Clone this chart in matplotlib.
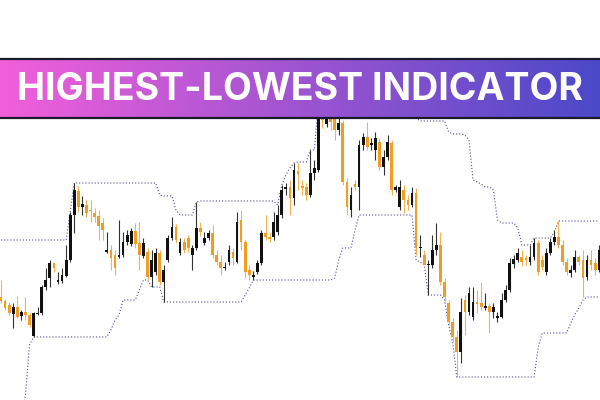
import numpy as np
import matplotlib
matplotlib.use("Agg")
import matplotlib.pyplot as plt
from matplotlib.colors import LinearSegmentedColormap

# candle data (148 bars)
opens = [103, 99, 95, 86, 93, 84, 88, 85, 64, 86,
         87, 113, 122, 137, 118, 119, 124, 140, 185, 209,
         193, 195, 190, 187, 184, 177, 148, 150, 145, 143,
         145, 158, 156, 169, 157, 144, 148, 123, 128, 147,
         118, 140, 162, 173, 147, 158, 162, 145, 152, 172,
         157, 162, 167, 145, 138, 132, 138, 148, 138, 180,
         158, 130, 123, 128, 137, 167, 163, 163, 168, 185,
         211, 213, 202, 229, 214, 213, 205, 227, 230, 288,
         276, 284, 282, 270, 277, 218, 190, 216, 213, 255,
         263, 255, 250, 258, 233, 243, 257, 210, 193, 210,
         200, 195, 207, 152, 145, 135, 135, 150, 155, 118,
         97, 78, 63, 48, 100, 88, 83, 98, 97, 92,
         94, 88, 82, 83, 100, 110, 136, 140, 143, 142,
         138, 143, 157, 140, 128, 147, 158, 163, 155, 138,
         127, 130, 143, 140, 123, 140, 137, 130]
closes = [99, 92, 87, 93, 83, 88, 85, 75, 87, 87,
          113, 120, 137, 132, 120, 125, 140, 185, 210, 193,
          196, 187, 189, 183, 174, 170, 150, 142, 132, 145,
          158, 165, 169, 156, 145, 157, 123, 140, 147, 118,
          130, 162, 173, 160, 158, 150, 152, 152, 172, 168,
          162, 167, 145, 138, 132, 133, 150, 142, 178, 158,
          128, 125, 125, 137, 167, 163, 161, 178, 185, 210,
          213, 202, 230, 226, 212, 205, 227, 232, 285, 280,
          284, 278, 270, 277, 218, 193, 205, 213, 255, 263,
          253, 257, 262, 233, 243, 258, 210, 213, 213, 200,
          195, 207, 152, 153, 135, 136, 150, 155, 118, 103,
          78, 63, 48, 88, 88, 107, 98, 96, 93, 94,
          88, 93, 84, 100, 110, 137, 141, 147, 138, 140,
          143, 157, 128, 133, 147, 158, 163, 155, 138, 128,
          130, 143, 138, 122, 140, 135, 130, 150]
highs = [120, 101, 98, 97, 104, 90, 103, 87, 88, 93,
         115, 132, 140, 138, 128, 132, 155, 188, 217, 214,
         204, 200, 200, 192, 190, 182, 168, 155, 150, 180,
         168, 170, 172, 177, 178, 162, 152, 150, 152, 150,
         135, 165, 183, 176, 162, 162, 165, 155, 198, 178,
         168, 170, 175, 150, 145, 138, 155, 152, 188, 190,
         160, 135, 129, 140, 170, 185, 168, 188, 195, 215,
         217, 220, 237, 237, 220, 217, 250, 240, 300, 300,
         295, 292, 288, 282, 280, 222, 213, 220, 260, 267,
         278, 262, 268, 262, 250, 265, 260, 215, 220, 215,
         205, 213, 212, 165, 150, 140, 165, 177, 168, 122,
         100, 82, 70, 102, 105, 113, 113, 110, 118, 107,
         97, 97, 88, 107, 115, 142, 145, 152, 150, 145,
         155, 162, 160, 145, 152, 162, 170, 179, 160, 142,
         135, 150, 145, 150, 145, 150, 142, 155]
lows = [97, 90, 85, 72, 82, 80, 80, 73, 63, 85,
        85, 110, 113, 128, 116, 117, 123, 138, 167, 188,
        185, 183, 178, 178, 160, 160, 147, 130, 125, 142,
        143, 155, 154, 152, 130, 142, 120, 113, 125, 115,
        98, 138, 160, 157, 145, 147, 148, 130, 150, 164,
        155, 160, 142, 135, 125, 130, 135, 135, 137, 150,
        122, 120, 120, 126, 135, 160, 158, 160, 165, 182,
        205, 185, 195, 210, 205, 200, 203, 220, 228, 272,
        273, 270, 260, 265, 215, 185, 183, 210, 190, 250,
        250, 250, 240, 230, 225, 240, 205, 208, 190, 187,
        190, 193, 145, 143, 136, 105, 132, 145, 115, 98,
        75, 58, 23, 37, 65, 85, 80, 87, 90, 90,
        67, 82, 78, 82, 98, 108, 132, 138, 134, 135,
        135, 140, 125, 130, 125, 145, 155, 152, 135, 125,
        123, 128, 135, 103, 120, 130, 125, 128]

# indicator lines
highest = [160, 160, 160, 160, 160, 160, 160, 160, 160, 160,
           160, 160, 160, 160, 160, 160, 160, 188, 217, 217,
           217, 217, 217, 217, 217, 217, 217, 217, 217, 217,
           217, 217, 217, 217, 217, 217, 217, 217, 217, 205,
           204, 204, 204, 190, 185, 185, 185, 185, 198, 199,
           199, 199, 199, 199, 199, 199, 199, 199, 199, 199,
           199, 199, 199, 199, 199, 199, 199, 199, 195, 215,
           225, 232, 237, 238, 238, 238, 250, 250, 300, 300,
           300, 300, 300, 300, 300, 300, 300, 300, 300, 300,
           300, 300, 300, 300, 300, 300, 300, 300, 295, 292,
           288, 285, 282, 279, 279, 279, 279, 279, 279, 279,
           268, 266, 266, 266, 265, 260, 220, 218, 216, 213,
           213, 210, 180, 177, 177, 177, 177, 172, 155, 155,
           155, 162, 162, 162, 162, 162, 168, 179, 179, 179,
           179, 179, 179, 179, 179, 179, 179, 179]
lowest = [-20, -20, -20, -20, -20, -20, 5, 55, 63, 63,
          63, 63, 63, 63, 63, 63, 63, 63, 63, 63,
          63, 63, 63, 63, 63, 63, 63, 70, 80, 85,
          100, 100, 100, 100, 110, 120, 120, 113, 113, 113,
          98, 98, 98, 98, 98, 98, 98, 98, 98, 98,
          98, 98, 98, 98, 98, 98, 98, 98, 98, 98,
          105, 112, 120, 120, 120, 120, 120, 120, 120, 120,
          120, 120, 120, 120, 120, 120, 120, 120, 120, 120,
          120, 120, 122, 140, 152, 152, 152, 170, 185, 185,
          185, 185, 185, 185, 185, 185, 185, 185, 185, 185,
          185, 185, 140, 138, 135, 105, 105, 105, 105, 100,
          75, 58, 23, 23, 23, 23, 23, 23, 23, 23,
          23, 23, 23, 23, 23, 23, 23, 23, 23, 23,
          23, 23, 52, 67, 67, 67, 67, 67, 67, 67,
          77, 85, 92, 100, 103, 103, 103, 103]

title = "HIGHEST-LOWEST INDICATOR"

o = np.array(opens)
c = np.array(closes)
h = np.array(highs)
l = np.array(lows)
x = np.arange(len(o))
up = c >= o

fig = plt.figure(figsize=(6, 4), dpi=100)
ax = fig.add_axes([0, 0, 1, 1])

ax.plot(x, highest, color="#3a3a8c", lw=0.8, ls=(0, (1, 1.8)), alpha=0.9, zorder=1)
ax.plot(x, lowest, color="#3a3a8c", lw=0.8, ls=(0, (1, 1.8)), alpha=0.9, zorder=1)

bull = "#111111"
bear = "#f39c1f"
ax.vlines(x[up], l[up], h[up], color="#333333", lw=0.8, zorder=2)
ax.vlines(x[~up], l[~up], h[~up], color="#f6b24f", lw=0.8, zorder=2)
body_lo = np.minimum(o, c)
body_h = np.maximum(np.abs(c - o), 1.2)
ax.bar(x[up], body_h[up], bottom=body_lo[up], width=0.68, color=bull, zorder=3)
ax.bar(x[~up], body_h[~up], bottom=body_lo[~up], width=0.68, color=bear, zorder=3)

ax.set_xlim(-0.25, 147.2)
ax.set_ylim(0, 400)
ax.axis("off")

# banner
bax = fig.add_axes([0, 1 - 118 / 400, 1, 59 / 400])
cmap = LinearSegmentedColormap.from_list("ban", ["#f25fda", "#4b49c8"])
bax.imshow(np.linspace(0, 1, 256).reshape(1, -1), aspect="auto", cmap=cmap,
           extent=[0, 1, 0, 1])
bax.set_xlim(0, 1)
bax.set_ylim(0, 1)
bax.set_xticks([])
bax.set_yticks([])
for side in ["left", "right"]:
    bax.spines[side].set_visible(False)
for side in ["top", "bottom"]:
    bax.spines[side].set_color("#1a1a2a")
    bax.spines[side].set_linewidth(1.6)
bax.text(0.5, 0.48, title, color="white", fontsize=27, fontweight="bold",
         family="Inter", ha="center", va="center")

fig.savefig("out.png", dpi=100)
